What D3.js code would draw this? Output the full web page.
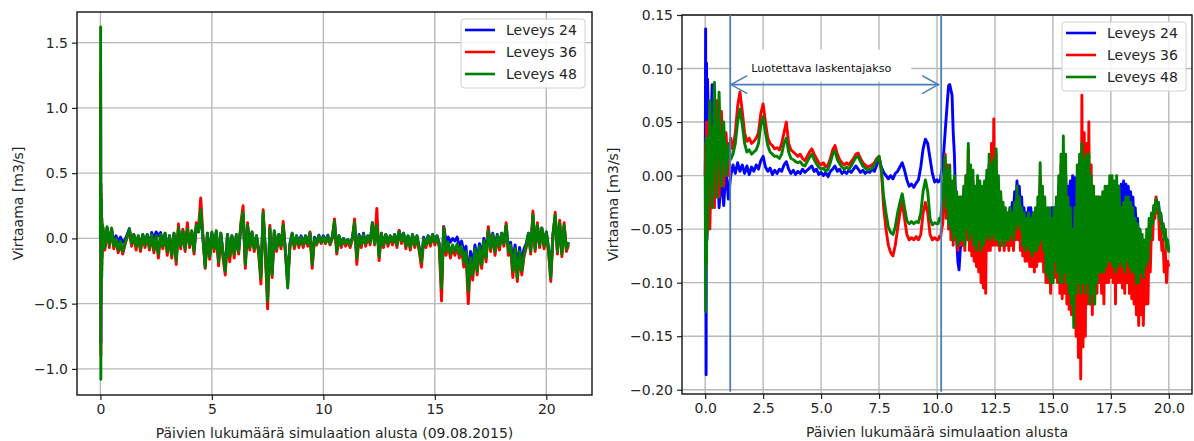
<!DOCTYPE html>
<html><head><meta charset="utf-8">
<script src="https://cdn.jsdelivr.net/npm/d3@7/dist/d3.min.js"></script>
<style>
body{margin:0;background:#fff}
svg{display:block}
text{font-family:"DejaVu Sans",sans-serif}
</style>
</head><body>
<svg id="c" width="1194" height="441"></svg>
<script>
// ---------- shared ----------
const seriesNames = ["Leveys 24", "Leveys 36", "Leveys 48"];
const seriesColors = ["#0000ff", "#ff0000", "#008000"];

// ---------- LEFT CHART ----------
const leftXLabel = "Päivien lukumäärä simulaation alusta (09.08.2015)";
const leftYLabel = "Virtaama [m3/s]";
const leftTicksX = [0, 5, 10, 15, 20];
const leftTicksY = [-1.0, -0.5, 0.0, 0.5, 1.0, 1.5];
// initial transient (days)
const leftStartDays = [0, 0.01, 0.02, 0.03, 0.04, 0.05, 0.06, 0.07, 0.08];
const leftStart24 = [0.0, 1.0, -0.8, 0.3, -0.3, 0.2, -0.2, 0.1, -0.1];
const leftStart36 = [0.0, 1.27, -0.9, 0.35, -0.35, 0.25, -0.25, 0.12, -0.12];
const leftStart48 = [0.0, 1.62, -1.08, 0.42, -0.5, 0.3, -0.3, 0.15, -0.15];
// main samples every 0.1 day from 0.1 to 21.0
const leftMainFirstDay = 0.1, leftMainStep = 0.1;
const left24 = [
 0.09,-0.06,0.08,-0.04,0.07,-0.03,0.02,-0.03,0.01,-0.03,
 -0.01,0.03,0.075,-0.03,0.03,-0.05,0.02,-0.07,0.03,-0.04,
 0.03,-0.05,0.045,0.0,0.05,0.02,0.045,-0.04,0.04,-0.09,
 0.02,-0.12,0.04,-0.15,0.07,-0.05,0.05,-0.07,0.06,-0.04,
 0.05,-0.09,0.09,0.05,0.2,0.0,-0.2,0.04,-0.13,0.04,
 -0.07,0.05,-0.17,0.04,-0.11,-0.23,0.03,-0.13,0.02,-0.11,
 0.03,-0.09,0.09,0.18,-0.18,0.09,-0.06,0.05,-0.07,0.02,
 -0.09,-0.28,0.18,-0.09,-0.45,0.07,-0.26,0.05,-0.07,0.03,
 -0.05,0.09,-0.09,-0.35,-0.04,0.04,-0.05,0.02,-0.04,0.02,
 -0.04,0.02,-0.03,0.04,-0.18,0.01,-0.03,0.025,-0.02,0.02,
 -0.02,0.025,-0.03,0.01,0.12,-0.09,0.02,-0.04,0.0,-0.03,
 -0.01,-0.04,0.0,0.11,-0.14,0.03,-0.04,0.04,-0.03,0.02,
 -0.02,0.12,-0.03,0.09,-0.13,0.04,-0.04,0.03,-0.03,0.02,
 -0.02,0.03,-0.04,0.06,-0.01,0.04,-0.05,0.02,-0.06,0.03,
 -0.04,0.02,-0.07,-0.16,0.01,-0.04,0.02,-0.03,0.03,-0.02,
 0.02,-0.04,-0.35,0.09,-0.02,0.01,-0.03,0.0,-0.02,0.01,
 -0.06,-0.02,-0.1,-0.06,-0.3,-0.1,-0.2,-0.05,-0.17,-0.04,
 -0.13,0.0,-0.1,0.07,-0.06,0.04,-0.08,0.03,-0.05,0.04,
 -0.03,0.1,-0.08,-0.03,-0.18,-0.05,-0.22,-0.07,-0.18,-0.08,
 -0.04,0.04,-0.08,0.16,-0.07,0.1,-0.04,0.08,-0.05,0.05,
 -0.07,-0.27,0.03,0.16,-0.09,0.11,-0.1,0.09,-0.07,-0.03
];
const left36 = [
 0.09,-0.09,0.08,-0.07,0.07,-0.08,-0.01,-0.11,-0.04,-0.12,
 -0.05,0.01,0.06,-0.06,0.02,-0.09,0.01,-0.1,0.02,-0.07,
 0.02,-0.09,0.02,-0.11,0.01,-0.15,0.02,-0.08,0.03,-0.13,
 0.01,-0.15,0.03,-0.2,0.11,-0.08,0.07,-0.1,0.12,-0.07,
 0.05,-0.12,0.12,0.08,0.31,0.02,-0.23,0.02,-0.16,0.04,
 -0.1,0.05,-0.21,0.03,-0.15,-0.28,0.02,-0.18,0.01,-0.15,
 0.02,-0.12,0.12,0.25,-0.23,0.12,-0.09,0.04,-0.1,0.01,
 -0.12,-0.35,0.22,-0.12,-0.54,0.1,-0.3,0.05,-0.1,0.02,
 -0.08,0.13,-0.12,-0.3,-0.07,0.03,-0.08,0.01,-0.07,0.0,
 -0.07,0.01,-0.06,0.05,-0.23,-0.01,-0.05,0.01,-0.04,0.0,
 -0.04,0.01,-0.05,0.0,0.15,-0.12,0.01,-0.07,-0.01,-0.06,
 -0.02,-0.07,-0.01,0.15,-0.2,0.01,-0.07,0.02,-0.06,0.01,
 -0.05,0.11,-0.05,0.23,-0.17,0.03,-0.07,0.02,-0.06,0.01,
 -0.05,0.02,-0.07,0.06,-0.04,0.03,-0.08,0.01,-0.09,0.02,
 -0.07,0.01,-0.1,-0.22,-0.02,-0.07,0.01,-0.06,0.02,-0.05,
 0.01,-0.07,-0.48,0.09,-0.13,-0.05,-0.15,-0.07,-0.13,-0.06,
 -0.15,-0.08,-0.22,-0.12,-0.5,-0.18,-0.32,-0.1,-0.28,-0.08,
 -0.23,-0.04,-0.18,0.09,-0.1,0.02,-0.13,0.01,-0.09,0.03,
 -0.06,0.12,-0.13,-0.08,-0.3,-0.1,-0.33,-0.12,-0.28,-0.14,
 -0.07,0.03,-0.12,0.21,-0.1,0.12,-0.07,0.07,-0.08,0.04,
 -0.1,-0.33,0.02,0.2,-0.12,0.14,-0.14,0.12,-0.1,-0.05
];
const left48 = [
 0.1,-0.07,0.09,-0.05,0.08,-0.06,0.0,-0.09,-0.02,-0.1,
 -0.04,0.02,0.07,-0.04,0.03,-0.06,0.02,-0.08,0.03,-0.05,
 0.03,-0.07,0.03,-0.09,0.02,-0.12,0.03,-0.06,0.04,-0.1,
 0.02,-0.13,0.04,-0.17,0.08,-0.06,0.06,-0.08,0.07,-0.05,
 0.06,-0.1,0.1,0.05,0.22,0.0,-0.22,0.04,-0.14,0.05,
 -0.08,0.06,-0.18,0.04,-0.12,-0.25,0.03,-0.14,0.02,-0.12,
 0.03,-0.1,0.1,0.2,-0.2,0.1,-0.07,0.05,-0.08,0.02,
 -0.1,-0.3,0.2,-0.1,-0.48,0.08,-0.28,0.06,-0.08,0.03,
 -0.06,0.1,-0.1,-0.38,-0.05,0.04,-0.06,0.02,-0.05,0.01,
 -0.05,0.02,-0.04,0.04,-0.2,0.0,-0.04,0.02,-0.03,0.01,
 -0.03,0.02,-0.04,0.01,0.13,-0.1,0.02,-0.05,0.0,-0.04,
 -0.01,-0.05,0.0,0.12,-0.15,0.02,-0.05,0.03,-0.04,0.02,
 -0.03,0.12,-0.04,0.1,-0.14,0.04,-0.05,0.03,-0.04,0.02,
 -0.03,0.03,-0.05,0.05,-0.02,0.04,-0.06,0.02,-0.07,0.03,
 -0.05,0.02,-0.08,-0.18,0.0,-0.05,0.02,-0.04,0.03,-0.03,
 0.02,-0.05,-0.38,0.08,-0.1,-0.03,-0.12,-0.05,-0.1,-0.04,
 -0.12,-0.06,-0.18,-0.1,-0.4,-0.15,-0.28,-0.08,-0.25,-0.06,
 -0.2,-0.02,-0.15,0.06,-0.08,0.03,-0.1,0.02,-0.06,0.04,
 -0.04,0.1,-0.1,-0.05,-0.25,-0.08,-0.3,-0.1,-0.25,-0.12,
 -0.05,0.04,-0.1,0.18,-0.08,0.1,-0.05,0.08,-0.06,0.05,
 -0.08,-0.3,0.03,0.18,-0.1,0.12,-0.12,0.1,-0.08,-0.03
];

// ---------- RIGHT CHART ----------
const rightXLabel = "Päivien lukumäärä simulaation alusta";
const rightYLabel = "Virtaama [m3/s]";
const rightTicksX = [0, 2.5, 5, 7.5, 10, 12.5, 15, 17.5, 20];
const rightTicksY = [-0.20, -0.15, -0.10, -0.05, 0.00, 0.05, 0.10, 0.15];
const rightStartDays = [0, 0.02, 0.04, 0.06, 0.08];
const rightStart24 = [0.0, 0.137, -0.186, 0.105, -0.06];
const rightStart36 = [0.0, 0.03, -0.06, 0.05, -0.055];
const rightStart48 = [0.0, -0.127, 0.035, -0.083, 0.02];
// calm part: every 0.1 day from 0.1 to 10.0
const rightCalmFirstDay = 0.1, rightCalmStep = 0.1;
const rightCalm24 = [
 0.09,-0.01,0.085,-0.02,0.03,-0.03,0.0,-0.028,0.008,-0.022,
 0.0,0.01,0.002,0.012,0.004,0.01,0.002,0.009,0.001,0.008,
 0.004,0.01,0.006,0.014,0.018,0.008,0.004,0.007,0.001,0.005,
 0.002,0.006,0.004,0.01,0.013,0.006,0.002,0.005,0.001,0.004,
 0.002,0.006,0.003,0.005,0.007,0.009,0.004,0.006,0.001,0.003,
 0.0,0.003,-0.001,0.004,0.006,0.009,0.004,0.006,0.002,0.004,
 0.002,0.005,0.003,0.006,0.009,0.006,0.003,0.005,0.002,0.004,
 0.003,0.006,0.004,0.01,0.016,0.008,0.003,0.0,-0.003,0.0,
 -0.003,0.002,0.004,0.008,0.012,0.005,-0.004,-0.01,-0.008,-0.011,
 -0.007,-0.004,0.008,0.025,0.034,0.03,0.016,0.002,-0.006,-0.004
];
const rightCalm36 = [
 0.03,-0.05,0.045,-0.03,0.07,-0.02,0.06,-0.01,0.04,0.0,
 0.035,0.025,0.04,0.065,0.078,0.06,0.04,0.032,0.035,0.03,
 0.032,0.035,0.04,0.058,0.067,0.05,0.035,0.03,0.028,0.025,
 0.026,0.024,0.03,0.04,0.05,0.03,0.024,0.022,0.02,0.018,
 0.02,0.016,0.014,0.018,0.022,0.025,0.02,0.016,0.012,0.01,
 0.012,0.008,0.01,0.016,0.024,0.028,0.02,0.015,0.012,0.01,
 0.012,0.01,0.013,0.016,0.02,0.021,0.016,0.012,0.01,0.008,
 0.009,0.01,0.012,0.016,0.018,0.005,-0.03,-0.05,-0.065,-0.072,
 -0.075,-0.065,-0.05,-0.035,-0.025,-0.04,-0.055,-0.06,-0.058,-0.06,
 -0.057,-0.06,-0.055,-0.035,-0.025,-0.035,-0.055,-0.06,-0.058,-0.06
];
const rightCalm48 = [
 -0.05,0.07,-0.03,0.087,-0.02,0.078,-0.01,0.05,0.0,0.03,
 0.015,0.02,0.03,0.05,0.062,0.048,0.03,0.022,0.024,0.02,
 0.022,0.024,0.03,0.047,0.055,0.04,0.028,0.022,0.02,0.018,
 0.018,0.016,0.02,0.03,0.035,0.022,0.016,0.015,0.013,0.012,
 0.013,0.01,0.009,0.013,0.017,0.02,0.015,0.011,0.008,0.006,
 0.007,0.004,0.006,0.012,0.02,0.023,0.015,0.011,0.008,0.006,
 0.008,0.006,0.009,0.013,0.017,0.018,0.013,0.009,0.007,0.005,
 0.006,0.007,0.01,0.014,0.018,0.006,-0.02,-0.035,-0.048,-0.053,
 -0.055,-0.048,-0.035,-0.025,-0.017,-0.03,-0.042,-0.045,-0.043,-0.045,
 -0.043,-0.044,-0.035,-0.015,-0.004,-0.015,-0.04,-0.046,-0.044,-0.045
];
// noisy part: every 0.05 day from 10.05 to 20.0
const rightNoisyFirstDay = 10.05, rightNoisyStep = 0.05;
const rightNoisy24 = [
 -0.006,-0.005,-0.004,0.005,0.01,0.025,0.04,0.055,0.07,0.084,
 0.085,0.08,0.075,0.04,0.02,-0.02,-0.06,-0.08,-0.088,-0.07,
 -0.06,-0.065,-0.04,-0.06,-0.02,-0.05,0.0,-0.055,-0.02,-0.05,
 -0.01,-0.06,-0.02,-0.06,-0.01,-0.055,-0.015,-0.06,-0.02,-0.055,
 -0.01,-0.05,0.0,-0.05,0.01,-0.045,0.0,-0.05,0.0,-0.05,
 0.0,-0.05,-0.02,-0.05,-0.03,-0.05,-0.035,-0.05,-0.035,-0.045,
 -0.035,-0.045,-0.03,-0.04,-0.025,-0.035,-0.015,-0.03,-0.005,-0.025,
 -0.01,-0.035,-0.02,-0.045,-0.03,-0.045,-0.035,-0.045,-0.03,-0.04,
 -0.03,-0.05,-0.035,-0.05,-0.04,-0.055,-0.03,-0.05,-0.01,-0.05,
 -0.02,-0.06,-0.03,-0.07,-0.035,-0.07,-0.04,-0.07,-0.03,-0.06,
 -0.03,-0.06,-0.025,-0.065,-0.01,-0.07,0.0,-0.07,0.02,-0.06,
 0.0,-0.06,-0.01,-0.05,-0.005,-0.06,0.0,-0.06,-0.002,-0.06,
 -0.01,-0.08,-0.005,-0.09,0.0,-0.08,-0.01,-0.085,0.0,-0.08,
 -0.005,-0.09,-0.01,-0.085,-0.02,-0.08,-0.025,-0.075,-0.03,-0.07,
 -0.03,-0.07,-0.025,-0.075,-0.02,-0.07,-0.015,-0.065,-0.01,-0.06,
 -0.01,-0.06,-0.01,-0.055,-0.015,-0.05,-0.01,-0.045,-0.008,-0.04,
 -0.005,-0.035,-0.008,-0.03,-0.01,-0.035,-0.015,-0.04,-0.02,-0.045,
 -0.03,-0.05,-0.04,-0.06,-0.05,-0.065,-0.06,-0.068,-0.062,-0.066,
 -0.06,-0.064,-0.05,-0.055,-0.04,-0.045,-0.03,-0.032,-0.022,-0.025,
 -0.025,-0.035,-0.035,-0.045,-0.045,-0.055,-0.055,-0.062,-0.065,-0.07
];
const rightNoisy36 = [
 -0.06,-0.057,-0.058,-0.05,-0.045,-0.02,0.02,-0.04,0.01,-0.05,
 0.0,-0.06,-0.01,-0.065,-0.005,-0.06,-0.02,-0.07,-0.025,-0.065,
 -0.02,-0.065,-0.015,-0.07,0.0,-0.06,0.025,-0.07,0.0,-0.075,
 -0.005,-0.08,-0.01,-0.085,-0.015,-0.09,-0.01,-0.1,-0.02,-0.105,
 -0.02,-0.11,-0.01,-0.07,0.01,-0.07,0.03,-0.065,0.053,-0.065,
 0.02,-0.065,-0.01,-0.07,-0.02,-0.065,-0.03,-0.07,-0.035,-0.065,
 -0.04,-0.07,-0.035,-0.065,-0.04,-0.07,-0.03,-0.06,-0.02,-0.06,
 -0.03,-0.07,-0.04,-0.075,-0.045,-0.08,-0.05,-0.08,-0.045,-0.085,
 -0.05,-0.085,-0.045,-0.09,-0.04,-0.085,-0.03,-0.08,0.0,-0.08,
 -0.02,-0.09,-0.03,-0.1,-0.035,-0.1,-0.04,-0.11,-0.05,-0.1,
 -0.04,-0.095,-0.03,-0.1,-0.01,-0.11,0.01,-0.115,0.02,-0.11,
 0.0,-0.12,-0.03,-0.125,-0.04,-0.13,-0.05,-0.13,-0.06,-0.15,
 -0.02,-0.17,-0.03,-0.19,0.075,-0.16,0.04,-0.15,0.03,-0.12,
 0.05,-0.12,0.01,-0.13,-0.01,-0.12,-0.02,-0.11,-0.02,-0.1,
 -0.03,-0.11,-0.025,-0.12,-0.02,-0.1,-0.015,-0.1,-0.01,-0.095,
 -0.01,-0.1,-0.015,-0.12,-0.02,-0.1,-0.02,-0.1,-0.03,-0.105,
 -0.03,-0.11,-0.025,-0.1,-0.025,-0.11,-0.03,-0.115,-0.04,-0.12,
 -0.05,-0.13,-0.06,-0.14,-0.065,-0.13,-0.07,-0.14,-0.08,-0.12,
 -0.07,-0.12,-0.06,-0.09,-0.05,-0.06,-0.03,-0.04,-0.02,-0.035,
 -0.03,-0.06,-0.05,-0.07,-0.06,-0.09,-0.07,-0.1,-0.08,-0.085
];
const rightNoisy48 = [
 -0.045,-0.04,-0.042,-0.03,-0.02,0.0,0.018,-0.03,0.005,-0.045,
 0.01,-0.05,-0.005,-0.06,0.0,-0.055,-0.015,-0.065,-0.02,-0.06,
 -0.02,-0.06,-0.01,-0.065,0.0,-0.05,0.03,-0.06,0.01,-0.055,
 0.005,-0.065,-0.01,-0.07,0.0,-0.06,-0.005,-0.07,-0.01,-0.065,
 -0.005,-0.06,0.005,-0.055,0.02,-0.06,0.01,-0.055,0.015,-0.06,
 0.025,-0.06,0.0,-0.065,-0.015,-0.06,-0.025,-0.065,-0.03,-0.06,
 -0.035,-0.06,-0.03,-0.055,-0.035,-0.06,-0.025,-0.05,-0.01,-0.045,
 -0.02,-0.05,-0.03,-0.065,-0.035,-0.07,-0.04,-0.065,-0.035,-0.07,
 -0.04,-0.075,-0.035,-0.07,-0.03,-0.07,-0.02,-0.065,0.012,-0.06,
 -0.01,-0.07,-0.02,-0.09,-0.03,-0.095,-0.03,-0.1,-0.04,-0.1,
 -0.03,-0.08,-0.02,-0.09,0.0,-0.1,0.02,-0.1,0.037,-0.09,
 0.02,-0.1,-0.02,-0.11,-0.03,-0.12,-0.05,-0.142,-0.03,-0.11,
 0.01,-0.1,0.02,-0.11,0.03,-0.1,0.015,-0.11,0.02,-0.1,
 0.02,-0.12,0.0,-0.11,-0.01,-0.12,-0.02,-0.1,-0.02,-0.09,
 -0.02,-0.09,-0.015,-0.09,-0.01,-0.085,-0.01,-0.08,0.0,-0.08,
 0.0,-0.085,-0.005,-0.09,0.0,-0.085,-0.01,-0.08,-0.03,-0.085,
 -0.025,-0.09,-0.02,-0.08,-0.02,-0.085,-0.025,-0.09,-0.03,-0.09,
 -0.04,-0.1,-0.045,-0.1,-0.05,-0.09,-0.055,-0.095,-0.06,-0.085,
 -0.05,-0.08,-0.04,-0.06,-0.035,-0.045,-0.028,-0.035,-0.022,-0.03,
 -0.025,-0.04,-0.035,-0.05,-0.045,-0.06,-0.05,-0.068,-0.06,-0.072
];
// annotation: reliable calculation period
const periodDays = [1.08, 10.18];
const periodArrowValue = 0.085;
const periodLineRange = [0.15, -0.2];
const periodText = "Luotettava laskentajakso";

// ---------- helpers ----------
function buildSeries(startDays, startVals, segments) {
  const pts = startDays.map((d, i) => [d, startVals[i]]);
  segments.forEach(([first, step, vals]) =>
    vals.forEach((v, i) => pts.push([+(first + i * step).toFixed(3), v])));
  return pts;
}
const fmtMinus = s => s.replace("-", "\u2212");

const svg = d3.select("#c");
const FS = 14;
const LW = 2.9;

function panel(cfg) {
  const {id, box, xDomain, yDomain, ticksX, ticksY, fmtX, fmtY, xLabel, yLabel, series, yLabelX} = cfg;
  const x = d3.scaleLinear().domain(xDomain).range([box.l, box.r]);
  const y = d3.scaleLinear().domain(yDomain).range([box.b, box.t]);
  const g = svg.append("g");
  g.append("defs").append("clipPath").attr("id", "clip" + id)
    .append("rect").attr("x", box.l).attr("y", box.t).attr("width", box.r - box.l).attr("height", box.b - box.t);
  const grid = g.append("g");
  grid.selectAll(".gx").data(ticksX).join("line")
    .attr("x1", d => x(d)).attr("x2", d => x(d)).attr("y1", box.t).attr("y2", box.b)
    .attr("stroke", "#b8b8b8").attr("stroke-width", 1.4);
  grid.selectAll(".gy").data(ticksY).join("line")
    .attr("y1", d => y(d)).attr("y2", d => y(d)).attr("x1", box.l).attr("x2", box.r)
    .attr("stroke", "#b8b8b8").attr("stroke-width", 1.4);
  const line = d3.line().x(d => x(d[0])).y(d => y(d[1]));
  const lg = g.append("g").attr("clip-path", `url(#clip${id})`);
  series.forEach((s, i) => {
    lg.append("path").datum(s).attr("d", line).attr("fill", "none")
      .attr("stroke", seriesColors[i]).attr("stroke-width", LW).attr("stroke-linejoin", "round");
  });
  const ax = g.append("g").attr("transform", `translate(0,${box.b})`)
    .call(d3.axisBottom(x).tickValues(ticksX).tickFormat(fmtX).tickSize(5).tickPadding(4));
  const ay = g.append("g").attr("transform", `translate(${box.l},0)`)
    .call(d3.axisLeft(y).tickValues(ticksY).tickFormat(fmtY).tickSize(5).tickPadding(4));
  [ax, ay].forEach(a => {
    a.select(".domain").remove();
    a.selectAll("text").attr("font-size", FS).attr("fill", "#262626").attr("font-family", "DejaVu Sans");
    a.selectAll(".tick line").attr("stroke", "#222").attr("stroke-width", 1.2);
  });
  g.append("rect").attr("x", box.l).attr("y", box.t).attr("width", box.r - box.l).attr("height", box.b - box.t)
    .attr("fill", "none").attr("stroke", "#111").attr("stroke-width", 1.4);
  g.append("text").attr("x", (box.l + box.r) / 2).attr("y", box.b + 43).attr("text-anchor", "middle")
    .attr("font-size", FS).attr("fill", "#262626").text(xLabel);
  g.append("text").attr("transform", `translate(${yLabelX},${(box.t + box.b) / 2}) rotate(-90)`)
    .attr("text-anchor", "middle").attr("font-size", FS).attr("fill", "#262626").text(yLabel);
  return {x, y, g};
}

function drawLegend(gx, gy) {
  const lg = svg.append("g").attr("transform", `translate(${gx},${gy})`);
  lg.append("rect").attr("x", 0).attr("y", 0).attr("width", 124).attr("height", 69).attr("rx", 3)
    .attr("fill", "#fff").attr("fill-opacity", 0.85).attr("stroke", "#d0d0d0").attr("stroke-width", 1);
  seriesNames.forEach((n, i) => {
    const cy = 11 + i * 22;
    lg.append("line").attr("x1", 4).attr("x2", 34).attr("y1", cy).attr("y2", cy)
      .attr("stroke", seriesColors[i]).attr("stroke-width", 2.6);
    lg.append("text").attr("x", 45).attr("y", cy + 5).attr("font-size", FS).attr("fill", "#262626").text(n);
  });
}

// ---------- left ----------
const leftSeries = [
  buildSeries(leftStartDays, leftStart24, [[leftMainFirstDay, leftMainStep, left24]]),
  buildSeries(leftStartDays, leftStart36, [[leftMainFirstDay, leftMainStep, left36]]),
  buildSeries(leftStartDays, leftStart48, [[leftMainFirstDay, leftMainStep, left48]])
];
panel({
  id: "L", box: {l: 77, r: 592, t: 12, b: 395},
  xDomain: [-1.05, 22.05], yDomain: [-1.2, 1.735],
  ticksX: leftTicksX, ticksY: leftTicksY,
  fmtX: d3.format("d"), fmtY: d => fmtMinus(d3.format(".1f")(d)),
  xLabel: leftXLabel, yLabel: leftYLabel, series: leftSeries, yLabelX: 23
});
drawLegend(461, 19);

// ---------- right ----------
const rightSeries = [
  buildSeries(rightStartDays, rightStart24, [[rightCalmFirstDay, rightCalmStep, rightCalm24], [rightNoisyFirstDay, rightNoisyStep, rightNoisy24]]),
  buildSeries(rightStartDays, rightStart36, [[rightCalmFirstDay, rightCalmStep, rightCalm36], [rightNoisyFirstDay, rightNoisyStep, rightNoisy36]]),
  buildSeries(rightStartDays, rightStart48, [[rightCalmFirstDay, rightCalmStep, rightCalm48], [rightNoisyFirstDay, rightNoisyStep, rightNoisy48]])
];
const R = panel({
  id: "R", box: {l: 682, r: 1192, t: 15, b: 394},
  xDomain: [-1.0, 21.0], yDomain: [-0.204, 0.15],
  ticksX: rightTicksX, ticksY: rightTicksY,
  fmtX: d3.format(".1f"), fmtY: d => fmtMinus(d3.format(".2f")(d)),
  xLabel: rightXLabel, yLabel: rightYLabel, series: rightSeries, yLabelX: 618
});

// annotation
const ann = svg.append("g");
const ax0 = R.x(periodDays[0]), ax1 = R.x(periodDays[1]);
const ay = R.y(periodArrowValue);
ann.append("rect").attr("x", ax0 + 1).attr("y", ay - 35).attr("width", 180).attr("height", 32).attr("fill", "#fff");
ann.selectAll(".vl").data(periodDays).join("line")
  .attr("x1", d => R.x(d)).attr("x2", d => R.x(d))
  .attr("y1", R.y(periodLineRange[0])).attr("y2", R.y(periodLineRange[1]) + 2)
  .attr("stroke", "#4a7ebb").attr("stroke-width", 1.8);
ann.append("line").attr("x1", ax0).attr("x2", ax1 - 2).attr("y1", ay).attr("y2", ay)
  .attr("stroke", "#4a7ebb").attr("stroke-width", 1.6);
ann.append("path").attr("d", `M${ax0 + 17},${ay - 9} L${ax0 + 1},${ay} L${ax0 + 17},${ay + 9}`)
  .attr("fill", "none").attr("stroke", "#4a7ebb").attr("stroke-width", 1.6);
ann.append("path").attr("d", `M${ax1 - 19},${ay - 9} L${ax1 - 3},${ay} L${ax1 - 19},${ay + 9}`)
  .attr("fill", "none").attr("stroke", "#4a7ebb").attr("stroke-width", 1.6);
ann.append("text").attr("x", ax0 + 21).attr("y", ay - 13).attr("font-family", "Liberation Sans, Arial, sans-serif")
  .attr("font-size", 11.2).attr("fill", "#111").text(periodText);

drawLegend(1062, 22);
</script>
</body></html>
